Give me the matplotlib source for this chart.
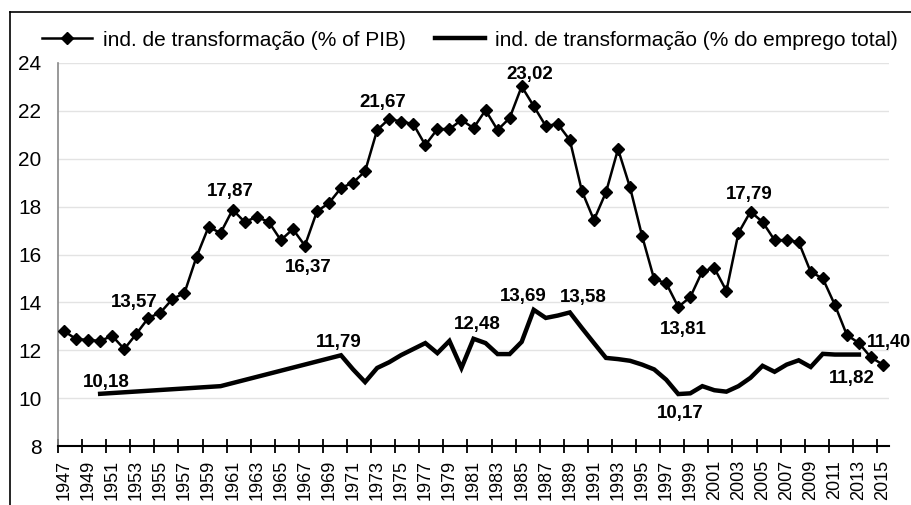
import numpy as np
import matplotlib.pyplot as plt
import matplotlib.lines as mlines

plt.rcParams['font.family'] = ['Liberation Sans', 'DejaVu Sans']

years_pib = list(range(1947, 2016))
pib = [12.80, 12.47, 12.43, 12.39, 12.60, 12.05, 12.68, 13.35, 13.57, 14.14,
       14.39, 15.90, 17.15, 16.90, 17.87, 17.36, 17.57, 17.36, 16.60, 17.06,
       16.37, 17.80, 18.15, 18.78, 19.00, 19.48, 21.20, 21.67, 21.55, 21.45,
       20.57, 21.24, 21.24, 21.62, 21.28, 22.03, 21.20, 21.70, 23.02, 22.20,
       21.37, 21.45, 20.78, 18.65, 17.44, 18.60, 20.40, 18.80, 16.77, 14.97,
       14.80, 13.81, 14.22, 15.30, 15.43, 14.48, 16.90, 17.79, 17.36, 16.60,
       16.60, 16.52, 15.27, 15.00, 13.90, 12.64, 12.30, 11.70, 11.40]

years_emp = [1950, 1960] + list(range(1970, 2014))
emp = [10.18, 10.50,
       11.79, 11.20, 10.67, 11.26, 11.50, 11.80, 12.05, 12.30, 11.88, 12.39,
       11.26, 12.48, 12.30, 11.84, 11.84, 12.35, 13.69, 13.35, 13.45, 13.58,
       12.93, 12.30, 11.68, 11.63, 11.56, 11.40, 11.20, 10.77, 10.17, 10.20,
       10.50, 10.33, 10.27, 10.50, 10.85, 11.35, 11.10, 11.40, 11.58, 11.30,
       11.85, 11.82, 11.82, 11.82]

# (year, text, dx, dy) offsets in pixels from the point
labels_pib = [(1955, '13,57', -26, 10), (1961, '17,87', -2, 18),
              (1967, '16,37', 3, -22), (1974, '21,67', -6, 16),
              (1985, '23,02', 8, 12), (2004, '17,79', -1, 17),
              (1998, '13,81', 5, -23)]
labels_emp = [(1950, '10,18', 6, 11), (1970, '11,79', -2, 13),
              (1981, '12,48', 4, 14), (1986, '13,69', -10, 13),
              (1989, '13,58', 13, 15), (1998, '10,17', 2, -19),
              (2013, '11,82', -7, -24)]

fig = plt.figure(figsize=(9.11, 5.05), dpi=100)
ax = fig.add_axes([58/911, 59/505, 831/911, 383/505])

ax.plot(years_pib, pib, color='black', lw=1.8, marker='D', ms=6.5,
        label='ind. de transformação (% of PIB)', zorder=3)
ax.plot(years_emp, emp, color='black', lw=3.2, solid_joinstyle='miter',
        label='ind. de transformação (% do emprego total)', zorder=3)

ax.set_xlim(1946.5, 2015.5)
ax.set_ylim(8, 24)
ax.set_yticks(np.arange(8, 25, 2))
ax.grid(axis='y', color='#e3e3e3', lw=1)
ax.set_axisbelow(True)

ax.set_xticks(range(1947, 2016, 2))
ax.set_xticklabels([str(y) for y in range(1947, 2016, 2)], rotation=90, fontsize=13)
ax.set_xticks(np.arange(1946.5, 2015, 2), minor=True)
ax.tick_params(axis='x', which='major', length=0, pad=10)
ax.tick_params(axis='x', which='minor', direction='inout', length=10, width=1.3)
ax.tick_params(axis='y', length=0, pad=12, labelsize=15)

for s in ['top', 'right']:
    ax.spines[s].set_visible(False)
ax.spines['left'].set_color('#888888')
ax.spines['left'].set_linewidth(1.2)
ax.spines['bottom'].set_linewidth(1.5)

d_pib = dict(zip(years_pib, pib))
d_emp = dict(zip(years_emp, emp))
for y, t, dx, dy in labels_pib:
    ax.annotate(t, (y, d_pib[y]), xytext=(dx, dy), textcoords='offset pixels',
                ha='center', va='center', fontsize=13.5, fontweight='bold')
for y, t, dx, dy in labels_emp:
    ax.annotate(t, (y, d_emp[y]), xytext=(dx, dy), textcoords='offset pixels',
                ha='center', va='center', fontsize=13.5, fontweight='bold')
ax.annotate('11,40', (2015, d_pib[2015]), xytext=(-16, 22), textcoords='offset pixels',
            ha='left', va='center', fontsize=13, fontweight='bold', annotation_clip=False)

h1 = mlines.Line2D([], [], color='black', lw=1.8, marker='D', ms=6.5)
h2 = mlines.Line2D([], [], color='black', lw=3.2)
fig.legend([h1, h2], ['ind. de transformação (% of PIB)', 'ind. de transformação (% do emprego total)'],
           loc='center', bbox_to_anchor=(470/911, 1 - 40/505), ncol=2, frameon=False,
           fontsize=15, handlelength=2.4, handletextpad=0.5, columnspacing=1.4)

# outer frame (left and top edges)
fig.add_artist(mlines.Line2D([10/911, 10/911], [0, 1 - 12/505], color='black', lw=1.2,
                             transform=fig.transFigure))
fig.add_artist(mlines.Line2D([10/911, 1], [1 - 12/505, 1 - 12/505], color='black', lw=1.2,
                             transform=fig.transFigure))

fig.savefig('out.png', dpi=100)
